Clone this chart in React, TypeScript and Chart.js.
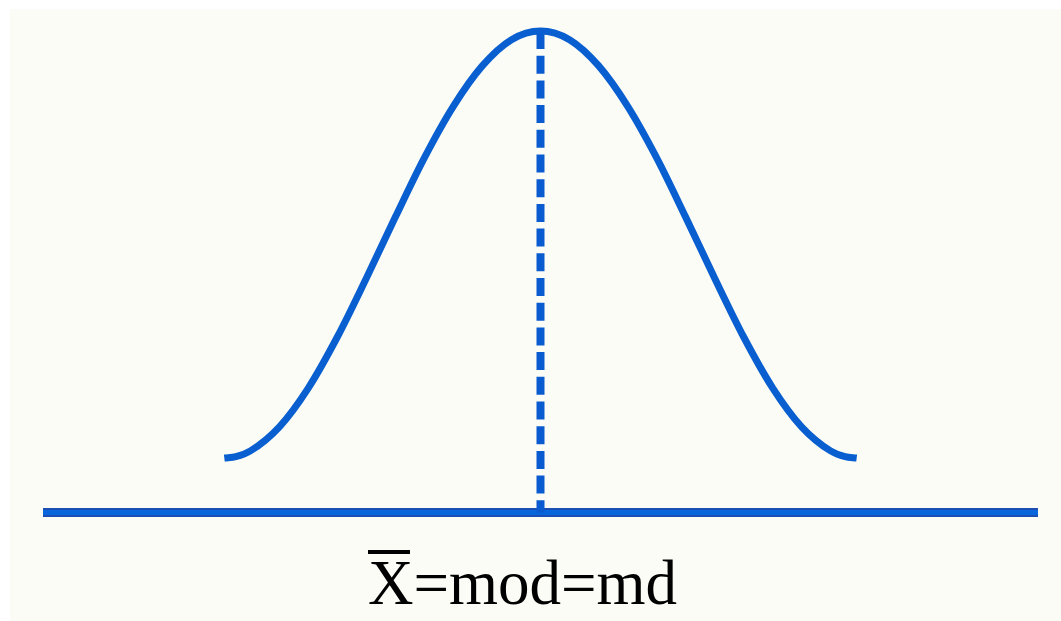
import React, { useEffect, useRef } from "react";
import { Chart, registerables } from "chart.js";

Chart.register(...registerables);

// positions along the horizontal axis (in standard deviations from the mean)
const curveZ = [-2.18, -2.1, -2.0, -1.8, -1.6, -1.4, -1.2, -1.0, -0.8, -0.6, -0.4, -0.2, 0, 0.2, 0.4, 0.6, 0.8, 1.0, 1.2, 1.4, 1.6, 1.8, 2.0, 2.1, 2.18];
// relative height of the curve above the baseline (peak = 1)
const curveY = [0.113, 0.116, 0.128, 0.178, 0.259, 0.365, 0.487, 0.614, 0.737, 0.844, 0.928, 0.982, 1.0, 0.982, 0.928, 0.844, 0.737, 0.614, 0.487, 0.365, 0.259, 0.178, 0.128, 0.116, 0.113];
// horizontal axis extent
const axisZ = [-3.43, 3.43];
const axisY = [0, 0];
// mean = mode = median line
const centerZ = [0, 0];
const centerY = [1, 0];

export default function App() {
  const ref = useRef<HTMLCanvasElement | null>(null);

  useEffect(() => {
    if (!ref.current) return;
    const chart = new Chart(ref.current, {
      type: "line",
      data: {
        datasets: [
          {
            label: "axis",
            data: axisZ.map((x, i) => ({ x, y: axisY[i] })),
            borderColor: "#1b4fb4",
            borderWidth: 9,
            pointRadius: 0,
            clip: false,
            order: 3,
          },
          {
            label: "axis-inner",
            data: axisZ.map((x, i) => ({ x, y: axisY[i] })),
            borderColor: "#0766dc",
            borderWidth: 5,
            pointRadius: 0,
            clip: false,
            order: 2,
          },
          {
            label: "center",
            data: centerZ.map((x, i) => ({ x, y: centerY[i] })),
            borderColor: "#0a5ad0",
            borderWidth: 8,
            borderDash: [18, 6.7],
            pointRadius: 0,
            clip: false,
            order: 1,
          },
          {
            label: "curve",
            data: curveZ.map((x, i) => ({ x, y: curveY[i] })),
            borderColor: "#0a5fd0",
            borderWidth: 7,
            pointRadius: 0,
            cubicInterpolationMode: "monotone",
            clip: false,
            order: 0,
          },
        ],
      },
      options: {
        animation: false,
        responsive: false,
        maintainAspectRatio: false,
        layout: { padding: { left: 43, right: 23, top: 31, bottom: 108.5 } },
        plugins: { legend: { display: false }, tooltip: { enabled: false }, title: { display: false } },
        scales: {
          x: { type: "linear", min: axisZ[0], max: axisZ[1], display: false },
          y: { type: "linear", min: 0, max: 1, display: false },
        },
      },
    });
    return () => chart.destroy();
  }, []);

  return (
    <div style={{ position: "fixed", left: 0, top: 0, width: 1061, height: 621, background: "#ffffff", overflow: "hidden" }}>
      <div style={{ position: "absolute", left: 10, top: 9, right: 0, bottom: 0, background: "#fcfcf7" }} />
      <canvas ref={ref} width={1061} height={621} style={{ position: "absolute", left: 0, top: 0, width: 1061, height: 621 }} />
      <div style={{ position: "absolute", left: 368, top: 550, width: 42, height: 4, background: "#000" }} />
      <div
        style={{
          position: "absolute",
          left: 368,
          top: 552,
          fontFamily: '"Liberation Serif", "Times New Roman", serif',
          fontSize: 63,
          lineHeight: "63px",
          color: "#000",
          whiteSpace: "nowrap",
        }}
      >
        X=mod=md
      </div>
    </div>
  );
}
